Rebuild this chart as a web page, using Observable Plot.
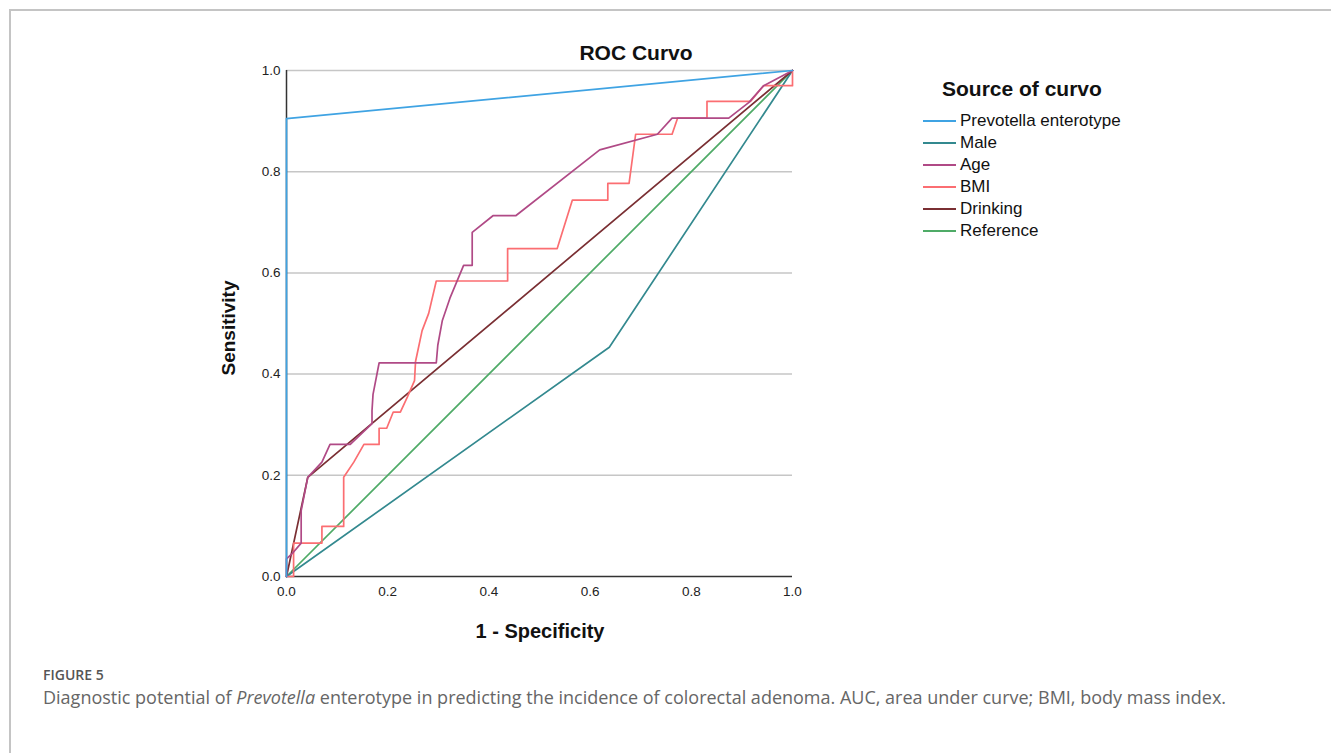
<!DOCTYPE html>
<html>
<head>
<meta charset="utf-8">
<script src="https://cdn.jsdelivr.net/npm/d3@7"></script>
<script src="https://cdn.jsdelivr.net/npm/@observablehq/plot@0.6"></script>
<style>
  html, body { margin: 0; padding: 0; background: #fff; }
  #wrap { position: relative; width: 1331px; height: 753px; overflow: hidden; font-family: "Liberation Sans", Arial, sans-serif; }
  #frame { position: absolute; left: 9px; top: 9px; width: 1330px; height: 760px; border-left: 2px solid #c4c4c4; border-top: 2px solid #c4c4c4; box-sizing: border-box; }
  #chart { position: absolute; left: 0; top: 0; }
  #chart svg { font-family: "Liberation Sans", Arial, sans-serif; }
  #chart g[aria-label="y-axis tick label"] text, #chart g[aria-label="x-axis tick label"] text { font-size: 13.5px; fill: #222; }
  .title { position: absolute; left: 536px; top: 41px; width: 200px; text-align: center; font-size: 21px; font-weight: bold; color: #111; }
  .xlab { position: absolute; left: 390px; top: 620px; width: 300px; text-align: center; font-size: 20px; font-weight: bold; color: #111; }
  .ylab { position: absolute; left: 229px; top: 328px; transform: translate(-50%, -50%) rotate(-90deg); font-size: 19px; font-weight: bold; color: #111; white-space: nowrap; }
  #legend { position: absolute; left: 923px; top: 76px; }
  #legend .lt { font-size: 21px; font-weight: bold; color: #111; margin-left: 19px; line-height: 26px; margin-bottom: 8px; }
  #legend .row { display: flex; align-items: center; height: 22px; font-size: 17px; color: #111; }
  #legend .sw { width: 33px; height: 2px; margin-right: 4px; }
  .fig { position: absolute; left: 43px; top: 665px; font-family: "Open Sans", sans-serif; font-size: 14px; font-weight: 600; color: #555; }
  .cap { position: absolute; left: 43px; top: 685px; font-family: "Open Sans", sans-serif; font-size: 18px; color: #666; white-space: nowrap; }
</style>
</head>
<body>
<div id="wrap">
  <div id="frame"></div>
  <div id="chart"></div>
  <div class="title">ROC Curvo</div>
  <div class="xlab">1 - Specificity</div>
  <div class="ylab">Sensitivity</div>
  <div id="legend"></div>
  <div class="fig">FIGURE 5</div>
  <div class="cap">Diagnostic potential of <i>Prevotella</i> enterotype in predicting the incidence of colorectal adenoma. AUC, area under curve; BMI, body mass index.</div>
</div>
<script>
const seriesNames = ["Prevotella enterotype", "Male", "Age", "BMI", "Drinking", "Reference"];
const seriesColors = ["#3fa3e3", "#33898f", "#b04a86", "#fb6e72", "#7a2f33", "#4fab67"];

const prevotellaX = [0, 0, 1];
const prevotellaY = [0, 0.905, 1];

const maleX = [0, 0.638, 1];
const maleY = [0, 0.453, 1];

const ageX = [0, 0, 0.011, 0.029, 0.029, 0.042, 0.070, 0.086, 0.126, 0.169, 0.169, 0.171, 0.183, 0.296, 0.299, 0.308, 0.323, 0.350, 0.367, 0.367, 0.408, 0.453, 0.619, 0.733, 0.762, 0.874, 0.914, 0.943, 1];
const ageY = [0, 0.035, 0.045, 0.066, 0.130, 0.196, 0.226, 0.261, 0.261, 0.302, 0.328, 0.360, 0.422, 0.422, 0.457, 0.506, 0.550, 0.615, 0.615, 0.680, 0.713, 0.713, 0.843, 0.874, 0.906, 0.906, 0.937, 0.970, 1];

const bmiX = [0, 0.014, 0.014, 0.070, 0.070, 0.113, 0.113, 0.133, 0.153, 0.183, 0.183, 0.198, 0.211, 0.225, 0.239, 0.253, 0.255, 0.268, 0.281, 0.296, 0.437, 0.437, 0.535, 0.565, 0.635, 0.635, 0.677, 0.690, 0.762, 0.773, 0.831, 0.831, 0.917, 0.943, 1, 1];
const bmiY = [0, 0, 0.066, 0.066, 0.099, 0.099, 0.196, 0.226, 0.261, 0.261, 0.293, 0.293, 0.325, 0.325, 0.355, 0.387, 0.425, 0.486, 0.520, 0.584, 0.584, 0.648, 0.648, 0.744, 0.744, 0.777, 0.777, 0.874, 0.874, 0.906, 0.906, 0.939, 0.939, 0.970, 0.970, 1];

const drinkingX = [0, 0.042, 1];
const drinkingY = [0, 0.196, 1];

const referenceX = [0, 1];
const referenceY = [0, 1];

const yTicks = [0, 0.2, 0.4, 0.6, 0.8, 1.0];
const xTicks = [0, 0.2, 0.4, 0.6, 0.8, 1.0];
const gridValues = [0.2, 0.4, 0.6, 0.8, 1.0];

const seriesXs = [prevotellaX, maleX, ageX, bmiX, drinkingX, referenceX];
const seriesYs = [prevotellaY, maleY, ageY, bmiY, drinkingY, referenceY];
const rows = [];
seriesNames.forEach((name, i) => {
  seriesXs[i].forEach((x, j) => rows.push({series: name, x, y: seriesYs[i][j]}));
});
const drawOrder = ["Reference", "Male", "Drinking", "BMI", "Age", "Prevotella enterotype"];

const marks = [
  Plot.ruleY(gridValues, {x1: 0, x2: 1, stroke: "#c6c6c6", strokeWidth: 1.5}),
  Plot.ruleY([0], {x1: 0, x2: 1, stroke: "#333", strokeWidth: 1.5}),
  Plot.ruleX([0], {y1: 0, y2: 1, stroke: "#333", strokeWidth: 1.5})
];
drawOrder.forEach(name => {
  marks.push(Plot.line(rows.filter(d => d.series === name), {x: "x", y: "y", stroke: "series", strokeWidth: 1.7, curve: "linear"}));
});

const chart = Plot.plot({
  width: 1331,
  height: 753,
  marginLeft: 286,
  marginRight: 539,
  marginTop: 70,
  marginBottom: 177,
  x: {domain: [0, 1], ticks: xTicks, tickFormat: d3.format(".1f"), tickSize: 0, tickPadding: 10, label: null},
  y: {domain: [0, 1], ticks: yTicks, tickFormat: d3.format(".1f"), tickSize: 0, tickPadding: 6, label: null},
  color: {domain: seriesNames, range: seriesColors},
  marks
});
document.getElementById("chart").appendChild(chart);

const legend = document.getElementById("legend");
const lt = document.createElement("div");
lt.className = "lt";
lt.textContent = "Source of curvo";
legend.appendChild(lt);
seriesNames.forEach((name, i) => {
  const row = document.createElement("div");
  row.className = "row";
  const sw = document.createElement("div");
  sw.className = "sw";
  sw.style.background = seriesColors[i];
  const t = document.createElement("span");
  t.textContent = name;
  row.appendChild(sw);
  row.appendChild(t);
  legend.appendChild(row);
});
</script>
</body>
</html>
